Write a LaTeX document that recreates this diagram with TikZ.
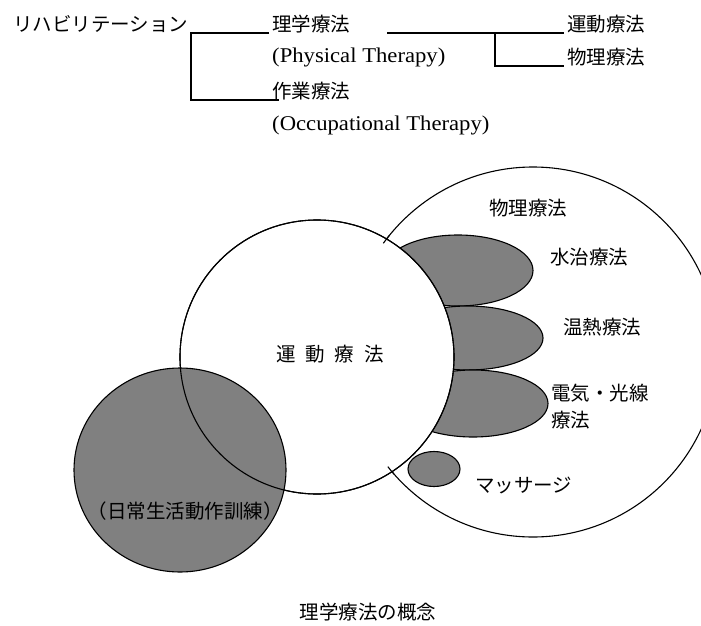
\documentclass[tikz,border=0pt]{standalone}
\usepackage{fontspec}
\setmainfont{Noto Sans CJK JP}
\newfontfamily\latfont[FakeStretch=1.08]{Liberation Serif}
\tikzset{
  jtext/.style={inner sep=0pt, font=\fontsize{19.5}{26.5}\selectfont},
  ltext/.style={inner sep=0pt, font=\latfont\fontsize{21}{24}\selectfont},
  treeline/.style={line width=1.3pt},
  outline/.style={draw=black, line width=1.1pt},
  shade/.style={fill=black!50, draw=black, line width=1.1pt},
}
\begin{document}
\begin{tikzpicture}[x=1pt,y=-1pt]
\useasboundingbox (0,0) rectangle (701,626);
\clip (0,0) rectangle (701,626);
\fill[white] (0,0) rectangle (701,626);

% ---- tree ----
\node[jtext, anchor=west] (reha) at (13,24) {リハビリテーション};
\node[jtext, anchor=west] (pt) at (272,24) {理学療法};
\node[ltext, anchor=west] (pten) at (272,57.5) {(Physical Therapy)};
\node[jtext, anchor=west] (ot) at (272,91) {作業療法};
\node[ltext, anchor=west] (oten) at (272,125) {(Occupational Therapy)};
\node[jtext, anchor=west] (ex) at (567,24) {運動療法};
\node[jtext, anchor=west] (phys) at (567,57.5) {物理療法};

\coordinate (j1) at (191,33);
\coordinate (j1e) at (269,33);
\coordinate (j1b) at (191,100);
\coordinate (j1be) at (279,100);
\draw[treeline] (j1e) -- (j1) -- (j1b) -- (j1be);

\coordinate (j2s) at (387,33);
\coordinate (j2e) at (564,33);
\coordinate (j2) at (495,33);
\coordinate (j2b) at (495,66);
\coordinate (j2be) at (564,66);
\draw[treeline] (j2s) -- (j2e);
\draw[treeline] (j2) -- (j2b) -- (j2be);

% ---- diagram ----
\coordinate (c1) at (533,352);
\coordinate (c2) at (317,357);
\coordinate (adl) at (180,470);
\coordinate (e1) at (458,270.5);
\coordinate (e2) at (468,338);
\coordinate (e3) at (473,403.5);
\coordinate (e4) at (434,469);

\path[outline, fill=white] (c1) circle[radius=185pt];
\path[shade] (e1) ellipse[x radius=75pt, y radius=35.5pt];
\path[shade] (e2) ellipse[x radius=75pt, y radius=32pt];
\path[shade] (e3) ellipse[x radius=75pt, y radius=33.5pt];
\path[shade] (e4) ellipse[x radius=26pt, y radius=17.5pt];
\path[outline, fill=white] (c2) circle[radius=137pt];
\draw[outline] (c1) ++(141:185pt) arc[start angle=141, end angle=144, radius=185pt];
\draw[outline] (c1) ++(218.3:185pt) arc[start angle=218.3, end angle=221.3, radius=185pt];
\path[shade] (adl) ellipse[x radius=106pt, y radius=102pt];
\draw[outline] (c2) circle[radius=137pt];

\node[jtext] (physlabel) at (528,208) {物理療法};
\node[jtext] (hydro) at (589,257.5) {水治療法};
\node[jtext] (heat) at (602,327) {温熱療法};
\node[jtext, anchor=west, align=left] (elec) at (551,406.75) {電気・光線\\療法};
\node[jtext, anchor=west] (mass) at (475,485) {マッサージ};
\node[jtext] (exlabel) at (330,354) {運\hspace{9.7pt}動\hspace{9.7pt}療\hspace{9.7pt}法};
\node[jtext] (adllabel) at (185,511) {（日常生活動作訓練）};
\node[jtext] (caption) at (368,612) {理学療法の概念};
\end{tikzpicture}
\end{document}
